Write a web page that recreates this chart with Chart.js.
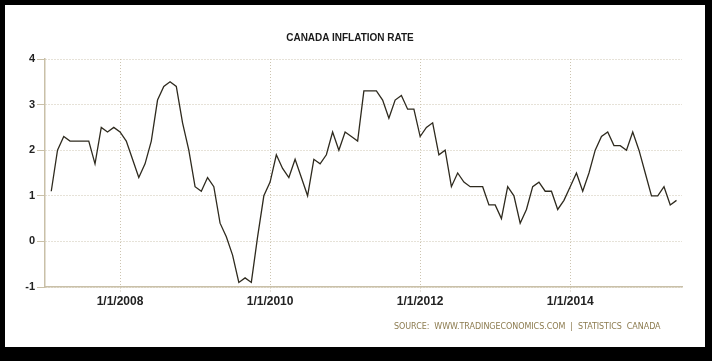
<!DOCTYPE html>
<html>
<head>
<meta charset="utf-8">
<script src="https://cdn.jsdelivr.net/npm/chart.js@4"></script>
<style>
  body { margin: 0; background: #000; width: 712px; height: 361px; overflow: hidden; position: relative; }
  #frame { position: absolute; left: 5px; top: 5px; width: 700px; height: 342px; background: #fff; }
  #chart { position: absolute; left: 0; top: 0; }
  #title { position: absolute; left: 0; width: 700px; top: 32px; text-align: center;
           font: bold 10px "Liberation Sans", Arial, sans-serif; color: #1a1a1a; }
  #source { position: absolute; left: 394px; top: 322px; white-space: pre;
            font: 8px "DejaVu Sans", sans-serif; color: #8c7b4f; letter-spacing: -0.05px; }
</style>
</head>
<body>
<div id="frame"></div>
<canvas id="chart" width="712" height="361"></canvas>
<div id="title">CANADA INFLATION RATE</div>
<div id="source">SOURCE:  WWW.TRADINGECONOMICS.COM  |  STATISTICS  CANADA</div>
<script>
// monthly CPI yoy %, Jan 2007 .. May 2015 (plotted at month end)
const startYear = 2007;
const inflation = [
  1.1, 2.0, 2.3, 2.2, 2.2, 2.2, 2.2, 1.7, 2.5, 2.4, 2.5, 2.4,
  2.2, 1.8, 1.4, 1.7, 2.2, 3.1, 3.4, 3.5, 3.4, 2.6, 2.0, 1.2,
  1.1, 1.4, 1.2, 0.4, 0.1, -0.3, -0.9, -0.8, -0.9, 0.1, 1.0, 1.3,
  1.9, 1.6, 1.4, 1.8, 1.4, 1.0, 1.8, 1.7, 1.9, 2.4, 2.0, 2.4,
  2.3, 2.2, 3.3, 3.3, 3.3, 3.1, 2.7, 3.1, 3.2, 2.9, 2.9, 2.3,
  2.5, 2.6, 1.9, 2.0, 1.2, 1.5, 1.3, 1.2, 1.2, 1.2, 0.8, 0.8,
  0.5, 1.2, 1.0, 0.4, 0.7, 1.2, 1.3, 1.1, 1.1, 0.7, 0.9, 1.2,
  1.5, 1.1, 1.5, 2.0, 2.3, 2.4, 2.1, 2.1, 2.0, 2.4, 2.0, 1.5,
  1.0, 1.0, 1.2, 0.8, 0.9
];
const xTicks = [2008, 2010, 2012, 2014];
const yTicks = [-1, 0, 1, 2, 3, 4];

const points = inflation.map((v, i) => ({ x: startYear + (i + 1) / 12, y: v }));

const gridColor = '#cdc4b0';
const axisColor = '#c9c0a8';
const tickFont = { family: '"Liberation Sans", Arial, sans-serif', size: 12, weight: 'bold' };

new Chart(document.getElementById('chart'), {
  type: 'line',
  data: {
    datasets: [{
      data: points,
      borderColor: '#2e2a1e',
      borderWidth: 1.3,
      pointRadius: 0,
      tension: 0
    }]
  },
  options: {
    responsive: false,
    animation: false,
    layout: { padding: { left: 5, top: 59, right: 30, bottom: 44 } },
    plugins: { legend: { display: false }, tooltip: { enabled: false } },
    scales: {
      x: {
        type: 'linear',
        min: 2007,
        max: 2015.49,
        afterBuildTicks: s => { s.ticks = xTicks.map(v => ({ value: v })); },
        afterFit: s => { s.height = 30; },
        ticks: { callback: v => '1/1/' + v, color: '#222', font: tickFont, padding: 2, maxRotation: 0 },
        grid: { color: gridColor, tickLength: 5, tickColor: gridColor, tickBorderDash: [1, 2] },
        border: { color: axisColor, width: 1.5, dash: [1, 2] }
      },
      y: {
        min: -1,
        max: 4,
        afterBuildTicks: s => { s.ticks = yTicks.map(v => ({ value: v })); },
        afterFit: s => { s.width = 40; },
        ticks: { color: '#222', font: { ...tickFont, size: 11 }, padding: 2 },
        grid: { color: gridColor, tickLength: 8, tickColor: axisColor, tickBorderDash: [] },
        border: { color: axisColor, width: 1.5, dash: [1, 2] }
      }
    }
  }
});
</script>
</body>
</html>
